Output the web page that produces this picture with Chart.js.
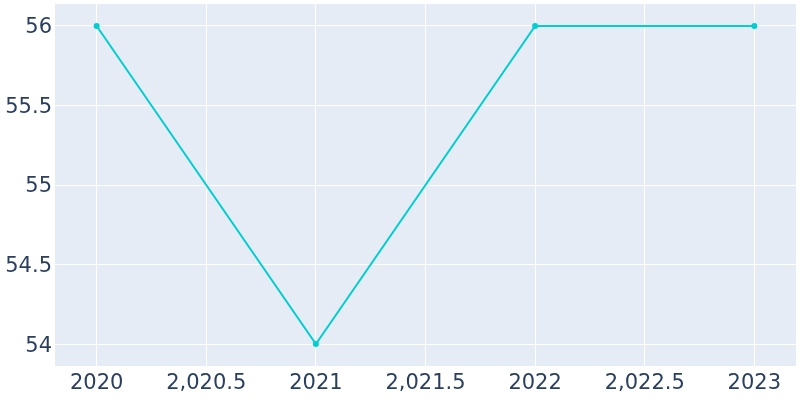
<!DOCTYPE html>
<html>
<head>
<meta charset="utf-8">
<script src="https://cdn.jsdelivr.net/npm/chart.js@4.4.1/dist/chart.umd.min.js"></script>
<style>
html,body{margin:0;padding:0;background:#fff;}
#wrap{width:800px;height:400px;}
</style>
</head>
<body>
<div id="wrap"><canvas id="c" width="800" height="400"></canvas></div>
<script>
const years = [2020, 2021, 2022, 2023];
const values = [56, 54, 56, 56];
const xTickValues = [2020, 2020.5, 2021, 2021.5, 2022, 2022.5, 2023];
const xTickLabels = ["2020", "2,020.5", "2021", "2,021.5", "2022", "2,022.5", "2023"];
const yTickValues = [54, 54.5, 55, 55.5, 56];
const yTickLabels = ["54", "54.5", "55", "55.5", "56"];

const bgPlugin = {
  id: 'plotBg',
  beforeDraw(chart) {
    const {ctx, chartArea: a} = chart;
    ctx.save();
    ctx.fillStyle = '#E5ECF6';
    ctx.fillRect(a.left, a.top, a.right - a.left, a.bottom - a.top);
    ctx.restore();
  }
};

const font = {family: '"DejaVu Sans", sans-serif', size: 21};

new Chart(document.getElementById('c'), {
  type: 'line',
  data: {
    datasets: [{
      data: years.map((y, i) => ({x: y, y: values[i]})),
      borderColor: '#00CED1',
      backgroundColor: '#00CED1',
      borderWidth: 2,
      pointRadius: 3,
      pointBorderWidth: 0,
      tension: 0,
      fill: false
    }]
  },
  options: {
    responsive: false,
    animation: false,
    layout: {padding: {top: 3, right: 3, left: 0, bottom: 0}},
    plugins: {legend: {display: false}, tooltip: {enabled: false}},
    scales: {
      x: {
        type: 'linear',
        min: 2019.81,
        max: 2023.19,
        afterBuildTicks(axis) { axis.ticks = xTickValues.map(v => ({value: v})); },
        afterFit(axis) { axis.height = 34; axis.paddingLeft = 0; axis.paddingRight = 0; },
        ticks: {
          font: font,
          color: '#2a3f5f',
          padding: 5,
          maxRotation: 0,
          autoSkip: false,
          callback: (v) => { const i = xTickValues.indexOf(v); return i >= 0 ? xTickLabels[i] : ''; }
        },
        grid: {color: '#ffffff', lineWidth: 1, drawTicks: false},
        border: {display: false}
      },
      y: {
        type: 'linear',
        min: 53.862,
        max: 56.138,
        afterBuildTicks(axis) { axis.ticks = yTickValues.map(v => ({value: v})); },
        afterFit(axis) { axis.width = 55; axis.paddingTop = 0; axis.paddingBottom = 0; },
        ticks: {
          font: font,
          color: '#2a3f5f',
          padding: 3,
          labelOffset: 2,
          autoSkip: false,
          callback: (v) => { const i = yTickValues.indexOf(v); return i >= 0 ? yTickLabels[i] : ''; }
        },
        grid: {color: '#ffffff', lineWidth: 1, drawTicks: false},
        border: {display: false}
      }
    }
  },
  plugins: [bgPlugin]
});
</script>
</body>
</html>
